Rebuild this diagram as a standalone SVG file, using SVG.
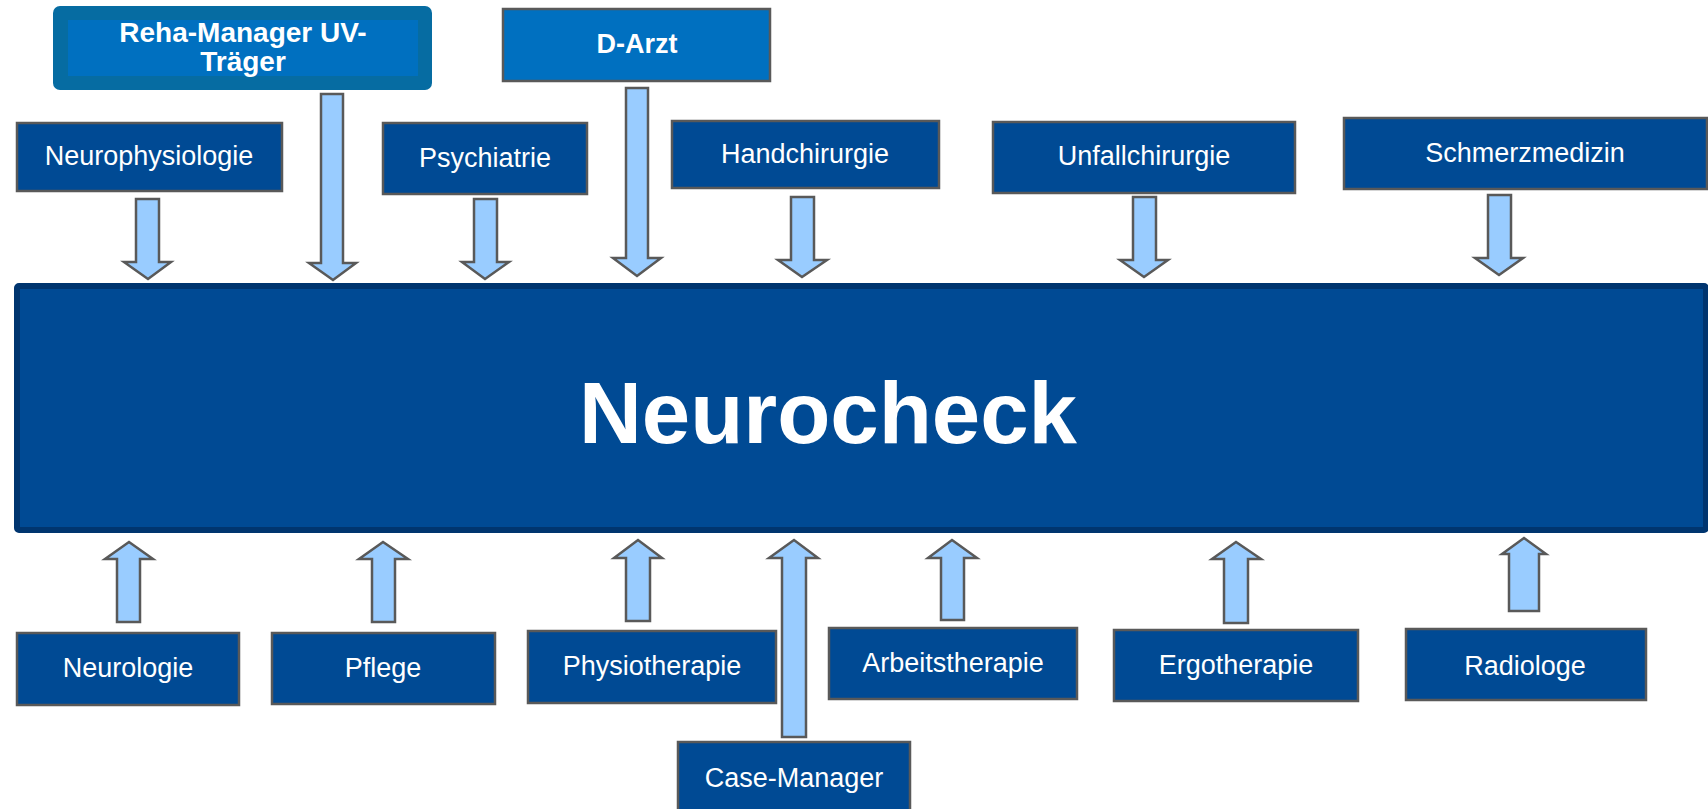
<svg xmlns="http://www.w3.org/2000/svg" width="1708" height="809" viewBox="0 0 1708 809">
<style>
.box{fill:#004A94;stroke:#595959;stroke-width:2.5}
.lbl{font-family:"Liberation Sans",Arial,sans-serif;font-size:27px;fill:#FFFFFF;text-anchor:middle}
.bold{font-weight:bold}
.arr{fill:#99CCFF;stroke:#595959;stroke-width:2.5;stroke-linejoin:miter}
</style>
<rect width="1708" height="809" fill="#FFFFFF"/>
<g id="neurocheck">
<rect x="17" y="286" width="1689" height="244" rx="2" fill="#004A94" stroke="#00356F" stroke-width="6"/>
<text class="lbl bold" x="828" y="443" style="font-size:87px">Neurocheck</text>
</g>
<g id="reha-manager">
<rect x="53" y="6" width="379" height="84" rx="7" fill="#066CA2"/>
<rect x="68" y="20" width="350" height="56" fill="#0070C0"/>
<text class="lbl bold" x="243" y="42" style="font-size:28px">Reha-Manager UV-</text>
<text class="lbl bold" x="243" y="71" style="font-size:28px">Träger</text>
</g>
<g id="d-arzt">
<rect x="503" y="9" width="267" height="72" fill="#0070C0" stroke="#595959" stroke-width="2.5"/>
<text class="lbl bold" x="637" y="53">D-Arzt</text>
</g>
<g id="neurophysiologie"><rect class="box" x="17" y="123" width="265" height="68"/><text class="lbl" x="149" y="165">Neurophysiologie</text></g>
<g id="psychiatrie"><rect class="box" x="383" y="123" width="204" height="71"/><text class="lbl" x="485" y="167">Psychiatrie</text></g>
<g id="handchirurgie"><rect class="box" x="672" y="121" width="267" height="67"/><text class="lbl" x="805" y="163">Handchirurgie</text></g>
<g id="unfallchirurgie"><rect class="box" x="993" y="122" width="302" height="71"/><text class="lbl" x="1144" y="165">Unfallchirurgie</text></g>
<g id="schmerzmedizin"><rect class="box" x="1344" y="118" width="363" height="71"/><text class="lbl" x="1525" y="162">Schmerzmedizin</text></g>
<g id="neurologie"><rect class="box" x="17" y="633" width="222" height="72"/><text class="lbl" x="128" y="677">Neurologie</text></g>
<g id="pflege"><rect class="box" x="272" y="633" width="223" height="71"/><text class="lbl" x="383" y="677">Pflege</text></g>
<g id="physiotherapie"><rect class="box" x="528" y="631" width="248" height="72"/><text class="lbl" x="652" y="675">Physiotherapie</text></g>
<g id="arbeitstherapie"><rect class="box" x="829" y="628" width="248" height="71"/><text class="lbl" x="953" y="672">Arbeitstherapie</text></g>
<g id="ergotherapie"><rect class="box" x="1114" y="630" width="244" height="71"/><text class="lbl" x="1236" y="674">Ergotherapie</text></g>
<g id="radiologe"><rect class="box" x="1406" y="629" width="240" height="71"/><text class="lbl" x="1525" y="675">Radiologe</text></g>
<g id="case-manager"><rect class="box" x="678" y="742" width="232" height="80"/><text class="lbl" x="794" y="787">Case-Manager</text></g>
<g id="connectors">
<path class="arr" d="M136,199H159V262H171L148,279L124,262H136Z"/>
<path class="arr" d="M321,94H343V263H356L333,280L309,263H321Z"/>
<path class="arr" d="M474,199H497V262H509L485,279L462,262H474Z"/>
<path class="arr" d="M626,88H648V258H661L637,276L613,258H626Z"/>
<path class="arr" d="M791,197H814V260H827L802,277L778,260H791Z"/>
<path class="arr" d="M1133,197H1156V260H1168L1144,277L1120,260H1133Z"/>
<path class="arr" d="M1488,195H1511V258H1523L1499,275L1475,258H1488Z"/>
<path class="arr" d="M117,622V559H105L129,542L153,559H140V622Z"/>
<path class="arr" d="M372,622V559H359L383,542L408,559H395V622Z"/>
<path class="arr" d="M626,621V558H614L638,540L662,558H650V621Z"/>
<path class="arr" d="M782,737V558H769L794,540L818,558H806V737Z"/>
<path class="arr" d="M941,620V558H928L952,540L977,558H964V620Z"/>
<path class="arr" d="M1224,623V559H1212L1236,542L1261,559H1248V623Z"/>
<path class="arr" d="M1509,611V554H1502L1524,538L1546,554H1539V611Z"/>
</g>
</svg>
